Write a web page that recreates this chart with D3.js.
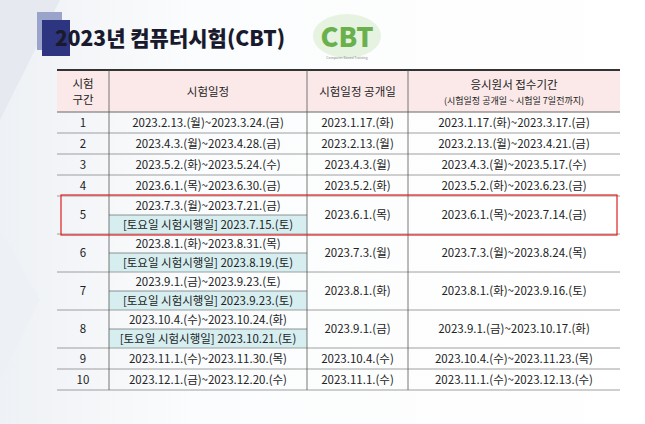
<!DOCTYPE html><html><head><meta charset="utf-8"><script src="https://cdn.jsdelivr.net/npm/d3@7"></script>
<style>body{margin:0;background:#fff}svg{display:block}</style></head><body><svg id="c" width="645" height="424"></svg>
<script>
const rounds=["1","2","3","4","5","6","7","8","9","10"];
const schedules=["2023.2.13.(월)~2023.3.24.(금)","2023.4.3.(월)~2023.4.28.(금)","2023.5.2.(화)~2023.5.24.(수)","2023.6.1.(목)~2023.6.30.(금)","2023.7.3.(월)~2023.7.21.(금)","2023.8.1.(화)~2023.8.31.(목)","2023.9.1.(금)~2023.9.23.(토)","2023.10.4.(수)~2023.10.24.(화)","2023.11.1.(수)~2023.11.30.(목)","2023.12.1.(금)~2023.12.20.(수)"];
const saturdays=["","","","","[토요일 시험시행일] 2023.7.15.(토)","[토요일 시험시행일] 2023.8.19.(토)","[토요일 시험시행일] 2023.9.23.(토)","[토요일 시험시행일] 2023.10.21.(토)","",""];
const openDates=["2023.1.17.(화)","2023.2.13.(월)","2023.4.3.(월)","2023.5.2.(화)","2023.6.1.(목)","2023.7.3.(월)","2023.8.1.(화)","2023.9.1.(금)","2023.10.4.(수)","2023.11.1.(수)"];
const applyPeriods=["2023.1.17.(화)~2023.3.17.(금)","2023.2.13.(월)~2023.4.21.(금)","2023.4.3.(월)~2023.5.17.(수)","2023.5.2.(화)~2023.6.23.(금)","2023.6.1.(목)~2023.7.14.(금)","2023.7.3.(월)~2023.8.24.(목)","2023.8.1.(화)~2023.9.16.(토)","2023.9.1.(금)~2023.10.17.(화)","2023.10.4.(수)~2023.11.23.(목)","2023.11.1.(수)~2023.12.13.(수)"];
const headers=["시험\n구간","시험일정","시험일정  공개일","응시원서  접수기간"];

const svg=d3.select("#c"),F="'Noto Sans CJK KR','Noto Sans',sans-serif";
const g0=svg.append("defs").append("linearGradient").attr("id","bg").attr("x1",0).attr("x2",1);
g0.append("stop").attr("offset",0).attr("stop-color","#eef1f5");g0.append("stop").attr("offset",0.3).attr("stop-color","#fbfcfd");g0.append("stop").attr("offset",1).attr("stop-color","#ffffff");
svg.append("rect").attr("width",645).attr("height",424).attr("fill","url(#bg)");
svg.append("path").attr("d","M0 0 L60 0 L0 120 Z").attr("fill","#e6eaf0");
svg.append("path").attr("d","M0 230 L40 300 L0 380 Z").attr("fill","#edf0f4");
svg.append("rect").attr("x",37).attr("y",12).attr("width",25).attr("height",38).attr("fill","#9aa3c9");
svg.append("rect").attr("x",42).attr("y",20).attr("width",28).attr("height",36).attr("fill","#2e3580");
svg.append("text").attr("x",55).attr("y",46).attr("font-family",F).attr("font-weight",900).attr("font-size",21).attr("fill","#1a1a2e").text("2023년 컴퓨터시험(CBT)");
svg.append("ellipse").attr("cx",347).attr("cy",36).attr("rx",34).attr("ry",22).attr("fill","#e6f3e0");
svg.append("text").attr("x",347).attr("y",47).attr("text-anchor","middle").attr("font-family",F).attr("font-weight",900).attr("font-size",27).attr("fill","#6ab04c").text("CBT");
svg.append("text").attr("x",347).attr("y",59).attr("text-anchor","middle").attr("font-family",F).attr("font-size",3.5).attr("fill","#888").text("Computer Based Training");

const colX=[57,109,307,408,620];
const heights=rounds.map((r,i)=>saturdays[i]?38:21);
const tops=[112];heights.forEach(h=>tops.push(tops[tops.length-1]+h));
const rowY=i=>tops[i];
svg.append("rect").attr("x",colX[0]).attr("y",70).attr("width",colX[4]-colX[0]).attr("height",42).attr("fill","#fbe9e9");
const bgG=svg.append("g");
const t=svg.append("g").attr("font-family",F).attr("font-size",11.5).attr("fill","#222").attr("text-anchor","middle");
const cx=i=>(colX[i]+colX[i+1])/2;
t.append("text").attr("x",cx(0)).attr("y",88).text("시험");
t.append("text").attr("x",cx(0)).attr("y",104).text("구간");
t.append("text").attr("x",cx(1)).attr("y",96).text(headers[1]);
t.append("text").attr("x",cx(2)).attr("y",96).text(headers[2]);
t.append("text").attr("x",cx(3)).attr("y",89).text(headers[3]);
t.append("text").attr("x",cx(3)).attr("y",104).attr("font-size",9).text("(시험일정 공개일 ~ 시험일 7일전까지)");
rounds.forEach((r,i)=>{
  const y0=rowY(i),h=heights[i],m=y0+h/2+4;
  t.append("text").attr("x",cx(0)).attr("y",m).text(r);
  if(saturdays[i]){
    bgG.append("rect").attr("x",colX[1]).attr("y",y0+h/2).attr("width",colX[2]-colX[1]).attr("height",h/2).attr("fill","#d6eef0");
    t.append("text").attr("x",cx(1)).attr("y",y0+h/4+4).text(schedules[i]);
    t.append("text").attr("x",cx(1)).attr("y",y0+3*h/4+4).text(saturdays[i]);
    svg.append("line").attr("x1",colX[1]).attr("x2",colX[2]).attr("y1",y0+h/2).attr("y2",y0+h/2).attr("stroke","#777").attr("stroke-width",0.8);
  } else t.append("text").attr("x",cx(1)).attr("y",m).text(schedules[i]);
  t.append("text").attr("x",cx(2)).attr("y",m).text(openDates[i]);
  t.append("text").attr("x",cx(3)).attr("y",m).text(applyPeriods[i]);
  svg.append("line").attr("x1",colX[0]).attr("x2",colX[4]).attr("y1",y0+h).attr("y2",y0+h).attr("stroke","#888").attr("stroke-width",0.8);
});
svg.append("line").attr("x1",colX[0]).attr("x2",colX[4]).attr("y1",70).attr("y2",70).attr("stroke","#333").attr("stroke-width",2);
svg.append("line").attr("x1",colX[0]).attr("x2",colX[4]).attr("y1",112).attr("y2",112).attr("stroke","#666").attr("stroke-width",1);
colX.slice(1,4).forEach(x=>svg.append("line").attr("x1",x).attr("x2",x).attr("y1",70).attr("y2",tops[tops.length-1]).attr("stroke","#555").attr("stroke-width",0.8));
svg.append("rect").attr("x",61).attr("y",rowY(4)-1).attr("width",556).attr("height",heights[4]+2).attr("fill","none").attr("stroke","#e02020").attr("stroke-width",1.2);
</script></body></html>
